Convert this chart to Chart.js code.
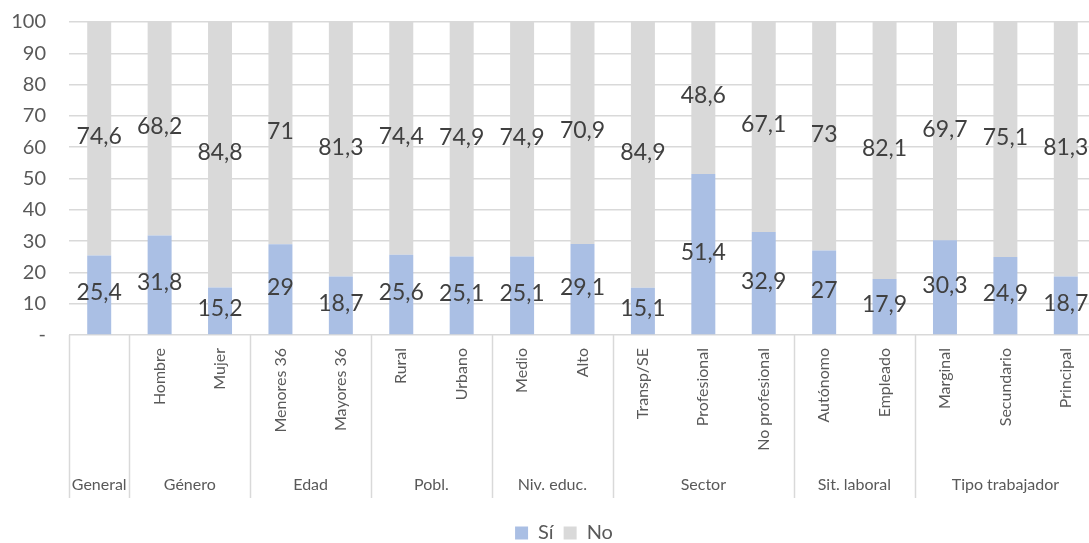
<!DOCTYPE html>
<html>
<head>
<meta charset="utf-8">
<script src="https://cdn.jsdelivr.net/npm/chart.js@4/dist/chart.umd.min.js"></script>
<style>
  html, body { margin: 0; padding: 0; background: #ffffff; overflow: hidden; }
  #wrap { width: 1089px; height: 543px; overflow: hidden; }
  canvas { display: block; }
</style>
</head>
<body>
<div id="wrap"><canvas id="c" width="1098" height="543"></canvas></div>
<script>
// Categories (inner level) and their groups (outer level)
const categories = ['', 'Hombre', 'Mujer', 'Menores 36', 'Mayores 36', 'Rural', 'Urbano',
  'Medio', 'Alto', 'Transp/SE', 'Profesional', 'No profesional', 'Autónomo', 'Empleado',
  'Marginal', 'Secundario', 'Principal'];
const groups = ['General', 'Género', 'Edad', 'Pobl.', 'Niv. educ.', 'Sector', 'Sit. laboral', 'Tipo trabajador'];
const groupSizes = [1, 2, 2, 2, 2, 3, 2, 3];

// Series values (%)
const si = [25.4, 31.8, 15.2, 29, 18.7, 25.6, 25.1, 25.1, 29.1, 15.1, 51.4, 32.9, 27, 17.9, 30.3, 24.9, 18.7];
const no = [74.6, 68.2, 84.8, 71, 81.3, 74.4, 74.9, 74.9, 70.9, 84.9, 48.6, 67.1, 73, 82.1, 69.7, 75.1, 81.3];

// Y axis ticks
const yTicks = [0, 10, 20, 30, 40, 50, 60, 70, 80, 90, 100];

const FONT = 'Lato, "Open Sans", sans-serif';
const GRID = '#d9d9d9';
const fmt = v => String(v).replace('.', ',');

// Value labels centred in each stacked segment
const segmentLabels = {
  id: 'segmentLabels',
  afterDatasetsDraw(chart) {
    const ctx = chart.ctx;
    ctx.save();
    ctx.font = '23px ' + FONT;
    ctx.fillStyle = '#404040';
    ctx.textAlign = 'center';
    ctx.textBaseline = 'middle';
    chart.data.datasets.forEach((ds, di) => {
      chart.getDatasetMeta(di).data.forEach((el, i) => {
        const y = (el.y + el.base) / 2 - 2;
        ctx.fillText(fmt(ds.data[i]), el.x, y);
      });
    });
    ctx.restore();
  }
};

// Outer category level: separators and group names below the inner labels
const groupAxis = {
  id: 'groupAxis',
  afterDraw(chart) {
    const xs = chart.scales.x;
    const ctx = chart.ctx;
    const step = xs.getPixelForValue(1) - xs.getPixelForValue(0);
    const top = chart.chartArea.bottom;
    const bottom = top + 163;
    ctx.save();
    ctx.strokeStyle = GRID;
    ctx.lineWidth = 1.5;
    ctx.font = '16px ' + FONT;
    ctx.fillStyle = '#595959';
    ctx.textAlign = 'center';
    ctx.textBaseline = 'middle';
    let start = 0;
    const edges = [0];
    groupSizes.forEach((n, g) => {
      const left = xs.getPixelForValue(start) - step / 2;
      const right = xs.getPixelForValue(start + n - 1) + step / 2;
      ctx.fillText(groups[g], (left + right) / 2, top + 150);
      start += n;
      edges.push(start);
    });
    edges.forEach(k => {
      const x = Math.round(xs.getPixelForValue(k) - step / 2) + 0.5;
      ctx.beginPath();
      ctx.moveTo(x, top);
      ctx.lineTo(x, bottom);
      ctx.stroke();
    });
    ctx.restore();
  }
};

// Nudge the legend to its place under the plot
const legendShift = {
  id: 'legendShift',
  afterLayout(chart) {
    const lg = chart.legend;
    lg.left += 15; lg.right += 15;
    lg.top += 13; lg.bottom += 13;
  }
};

new Chart(document.getElementById('c'), {
  type: 'bar',
  data: {
    labels: categories,
    datasets: [
      { label: 'Sí', data: si, backgroundColor: '#aabfe4', barPercentage: 0.397, categoryPercentage: 1 },
      { label: 'No', data: no, backgroundColor: '#d9d9d9', barPercentage: 0.397, categoryPercentage: 1 }
    ]
  },
  options: {
    responsive: false,
    animation: false,
    devicePixelRatio: 1,
    layout: { padding: { top: 22, right: 0, bottom: 3, left: 0 } },
    scales: {
      x: {
        stacked: true,
        grid: { display: false, drawTicks: false },
        border: { display: false },
        ticks: {
          autoSkip: false, minRotation: 90, maxRotation: 90, padding: 13,
          color: '#595959', font: { family: FONT, size: 16 }
        },
        afterFit(scale) { scale.height = 165; }
      },
      y: {
        stacked: true,
        min: 0, max: 100,
        afterBuildTicks(scale) { scale.ticks = yTicks.map(v => ({ value: v })); },
        grid: { color: GRID, lineWidth: 1.5, drawTicks: false },
        border: { display: false },
        ticks: {
          padding: 23, color: '#595959', font: { family: FONT, size: 20 },
          callback: v => v === 0 ? '-' : v
        },
        afterFit(scale) { scale.width = 69; scale.paddingTop = 0; scale.paddingBottom = 0; }
      }
    },
    plugins: {
      legend: {
        position: 'bottom',
        labels: {
          boxWidth: 13, boxHeight: 13, padding: 10,
          color: '#595959', font: { family: FONT, size: 20 }
        }
      },
      tooltip: { enabled: false }
    }
  },
  plugins: [segmentLabels, groupAxis, legendShift]
});
</script>
</body>
</html>
